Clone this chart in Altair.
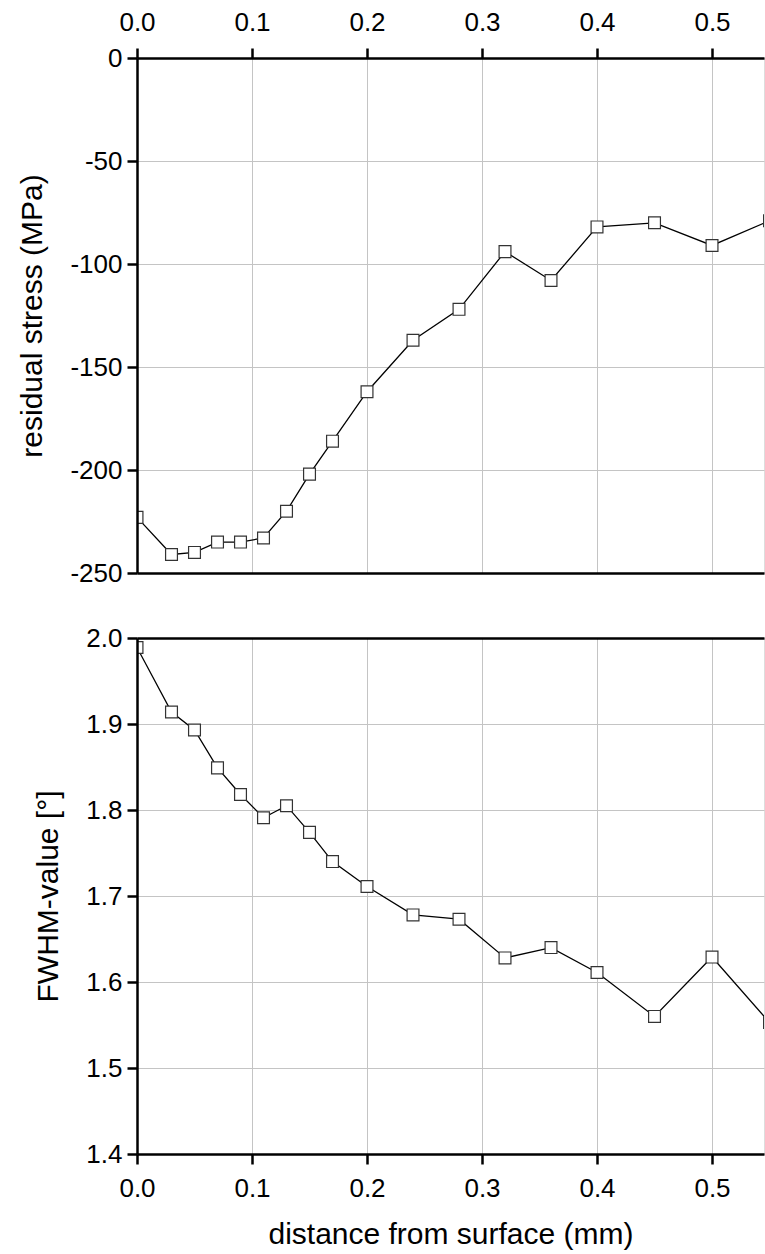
import altair as alt
import pandas as pd

# ---- data ----
depth = [0.0, 0.03, 0.05, 0.07, 0.09, 0.11, 0.13, 0.15, 0.17, 0.20,
         0.24, 0.28, 0.32, 0.36, 0.40, 0.45, 0.50, 0.55]
stress = [-223, -241, -240, -235, -235, -233, -220, -202, -186, -162,
          -137, -122, -94, -108, -82, -80, -91, -79]
fwhm = [1.989, 1.914, 1.893, 1.849, 1.818, 1.791, 1.805, 1.774, 1.740, 1.711,
        1.678, 1.673, 1.628, 1.640, 1.611, 1.560, 1.629, 1.553]

x_ticks = [0.0, 0.1, 0.2, 0.3, 0.4, 0.5]
stress_ticks = [-250, -200, -150, -100, -50, 0]
fwhm_ticks = [1.4, 1.5, 1.6, 1.7, 1.8, 1.9, 2.0]

df = pd.DataFrame({"depth": depth, "stress": stress, "fwhm": fwhm})

FONT = "Liberation Sans"
GRID = "#c4c4c4"
AXW = 2.5
LBL = 26
TTL = 30
W = 627
X_DOMAIN = [0, 0.5452]

xscale = alt.Scale(domain=X_DOMAIN, nice=False, zero=False)


def grid_axis(orient, values):
    return alt.Axis(orient=orient, values=values, grid=True, gridColor=GRID,
                    gridWidth=1, gridOpacity=1, labels=False, ticks=False,
                    domain=False, title=None, zindex=0)


def frame_axis(orient):
    return alt.Axis(orient=orient, domain=True, domainColor="black",
                    domainWidth=AXW, labels=False, ticks=False, grid=False,
                    title=None, zindex=1)


def x_main(orient):
    return alt.Axis(orient=orient, values=x_ticks, format=".1f",
                    labelFont=FONT, labelFontSize=LBL, labelColor="black",
                    labelPadding=13 if orient == "top" else 11,
                    labelFlush=False, labelOverlap=False,
                    tickSize=10, tickWidth=AXW, tickColor="black",
                    domainColor="black", domainWidth=AXW, grid=False,
                    zindex=1,
                    title="distance from surface (mm)" if orient == "bottom" else None,
                    titleFont=FONT, titleFontSize=TTL, titleFontWeight="normal",
                    titleColor="black", titlePadding=18)


def y_main(values, title, label_expr):
    return alt.Axis(orient="left", values=values, labelExpr=label_expr,
                    labelFont=FONT, labelFontSize=LBL, labelColor="black",
                    labelPadding=5, labelOverlap=False, labelFlush=False,
                    tickSize=10, tickWidth=AXW, tickColor="black",
                    domainColor="black", domainWidth=AXW, grid=False,
                    zindex=1, title=title, titleFont=FONT, titleFontSize=TTL,
                    titleFontWeight="normal", titleColor="black",
                    titlePadding=22)


def panel(field, ydomain, yvalues, title, label_expr, xorient, frame_orient, height):
    yscale = alt.Scale(domain=ydomain, nice=False, zero=False)
    base = alt.Chart(df)
    line = base.mark_line(color="black", strokeWidth=1.3, clip=True).encode(
        x=alt.X("depth:Q", scale=xscale, axis=grid_axis(xorient, x_ticks)),
        y=alt.Y(f"{field}:Q", scale=yscale, axis=grid_axis("left", yvalues)),
    )
    pts = base.mark_point(shape="square", filled=True, fill="white",
                          stroke="#333333", strokeWidth=1.2, size=140,
                          opacity=1, clip=True).encode(
        x=alt.X("depth:Q", scale=xscale, axis=x_main(xorient)),
        y=alt.Y(f"{field}:Q", scale=yscale, axis=y_main(yvalues, title, label_expr)),
    )
    frame = base.mark_point(opacity=0, clip=True).encode(
        x=alt.X("depth:Q", scale=xscale, axis=frame_axis(frame_orient)),
        y=alt.Y(f"{field}:Q", scale=yscale, axis=None),
    )
    return alt.layer(line, pts, frame).resolve_axis(
        x="independent", y="independent"
    ).properties(width=W, height=height)


top = panel("stress", [-250, 0], stress_ticks, "residual stress (MPa)",
            "datum.value + ''", "top", "bottom", 515)
bottom = panel("fwhm", [1.4, 2.0], fwhm_ticks, "FWHM-value [°]",
               "format(datum.value, '.1f')", "bottom", "top", 516)

chart = alt.vconcat(top, bottom, spacing=37).properties(
    padding={"left": 17, "top": 8, "right": 0, "bottom": 4}
).configure_view(strokeWidth=0).configure(background="white")

chart.save("out.html", embed_options={"renderer": "svg", "actions": False})
